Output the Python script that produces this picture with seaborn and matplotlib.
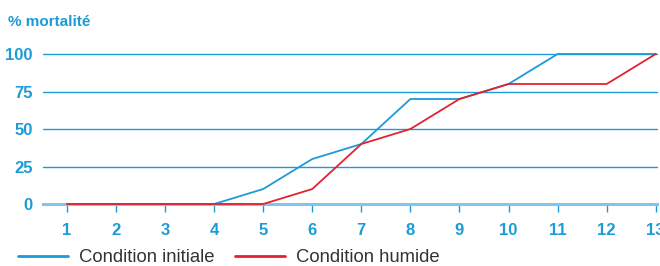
import matplotlib
matplotlib.use("Agg")
import matplotlib.pyplot as plt
import seaborn as sns
import pandas as pd
from matplotlib.lines import Line2D

x_vals = [1, 2, 3, 4, 5, 6, 7, 8, 9, 10, 11, 12, 13]
initiale = [0, 0, 0, 0, 10, 30, 40, 70, 70, 80, 100, 100, 100]
humide = [0, 0, 0, 0, 0, 10, 40, 50, 70, 80, 80, 80, 100]
series_names = ["Condition initiale", "Condition humide"]
y_ticks = [0, 25, 50, 75, 100]
y_label = "% mortalité"

BLUE = "#1b9bd7"
RED = "#e4222e"
LIGHTBLUE = "#7fc6ea"
TEXT = "#333333"

sns.set_theme(style="white")
plt.rcParams['font.family'] = ['Liberation Sans Narrow', 'Liberation Sans', 'DejaVu Sans']

df = pd.DataFrame({
    "x": x_vals * 2,
    "y": initiale + humide,
    "serie": [series_names[0]] * len(x_vals) + [series_names[1]] * len(x_vals),
})

fig = plt.figure(figsize=(6.6, 2.66), dpi=100)
ax = fig.add_axes([0.065, 0.233, 0.93, 0.564])

for yv in y_ticks[1:]:
    ax.axhline(yv, color=BLUE, lw=1.0, zorder=1)

sns.lineplot(data=df, x="x", y="y", hue="serie", palette=[BLUE, RED],
             hue_order=series_names, ax=ax, lw=1.3, legend=False, zorder=3)
for ln in ax.lines:
    ln.set_clip_on(False)

ax.set_xlim(0.51, 13.02)
ax.set_ylim(0, 100)
for s in ["top", "right", "left"]:
    ax.spines[s].set_visible(False)
ax.spines["bottom"].set_color(LIGHTBLUE)
ax.spines["bottom"].set_linewidth(2.2)
ax.spines["bottom"].set_zorder(2)

ax.set_xticks(x_vals)
ax.set_xticklabels([str(v) for v in x_vals])
ax.set_yticks(y_ticks)
ax.set_yticklabels([str(v) for v in y_ticks])
ax.tick_params(axis="x", direction="out", length=6, width=1, color=BLUE,
               bottom=True, pad=8, labelsize=12, labelcolor=BLUE)
ax.tick_params(axis="y", length=0, pad=7.5, labelsize=12, labelcolor=BLUE)
for lab in ax.get_xticklabels() + ax.get_yticklabels():
    lab.set_fontweight("bold")
ax.set_xlabel("")
ax.set_ylabel("")

fig.text(8 / 660, 1 - 22 / 266, y_label, color=BLUE, fontsize=11,
         fontweight="bold", va="center", ha="left")

handles = [Line2D([0], [0], color=BLUE, lw=2), Line2D([0], [0], color=RED, lw=2)]
leg = fig.legend(handles, series_names, loc="center left",
                 bbox_to_anchor=(18 / 660, 1 - 258 / 266), ncol=2, frameon=False,
                 fontsize=13.3, handlelength=2.7, handletextpad=0.6,
                 columnspacing=1.1, borderpad=0, borderaxespad=0)
for t in leg.get_texts():
    t.set_color(TEXT)
    t.set_family(['Liberation Sans', 'DejaVu Sans'])

fig.savefig("out.png", dpi=100)
